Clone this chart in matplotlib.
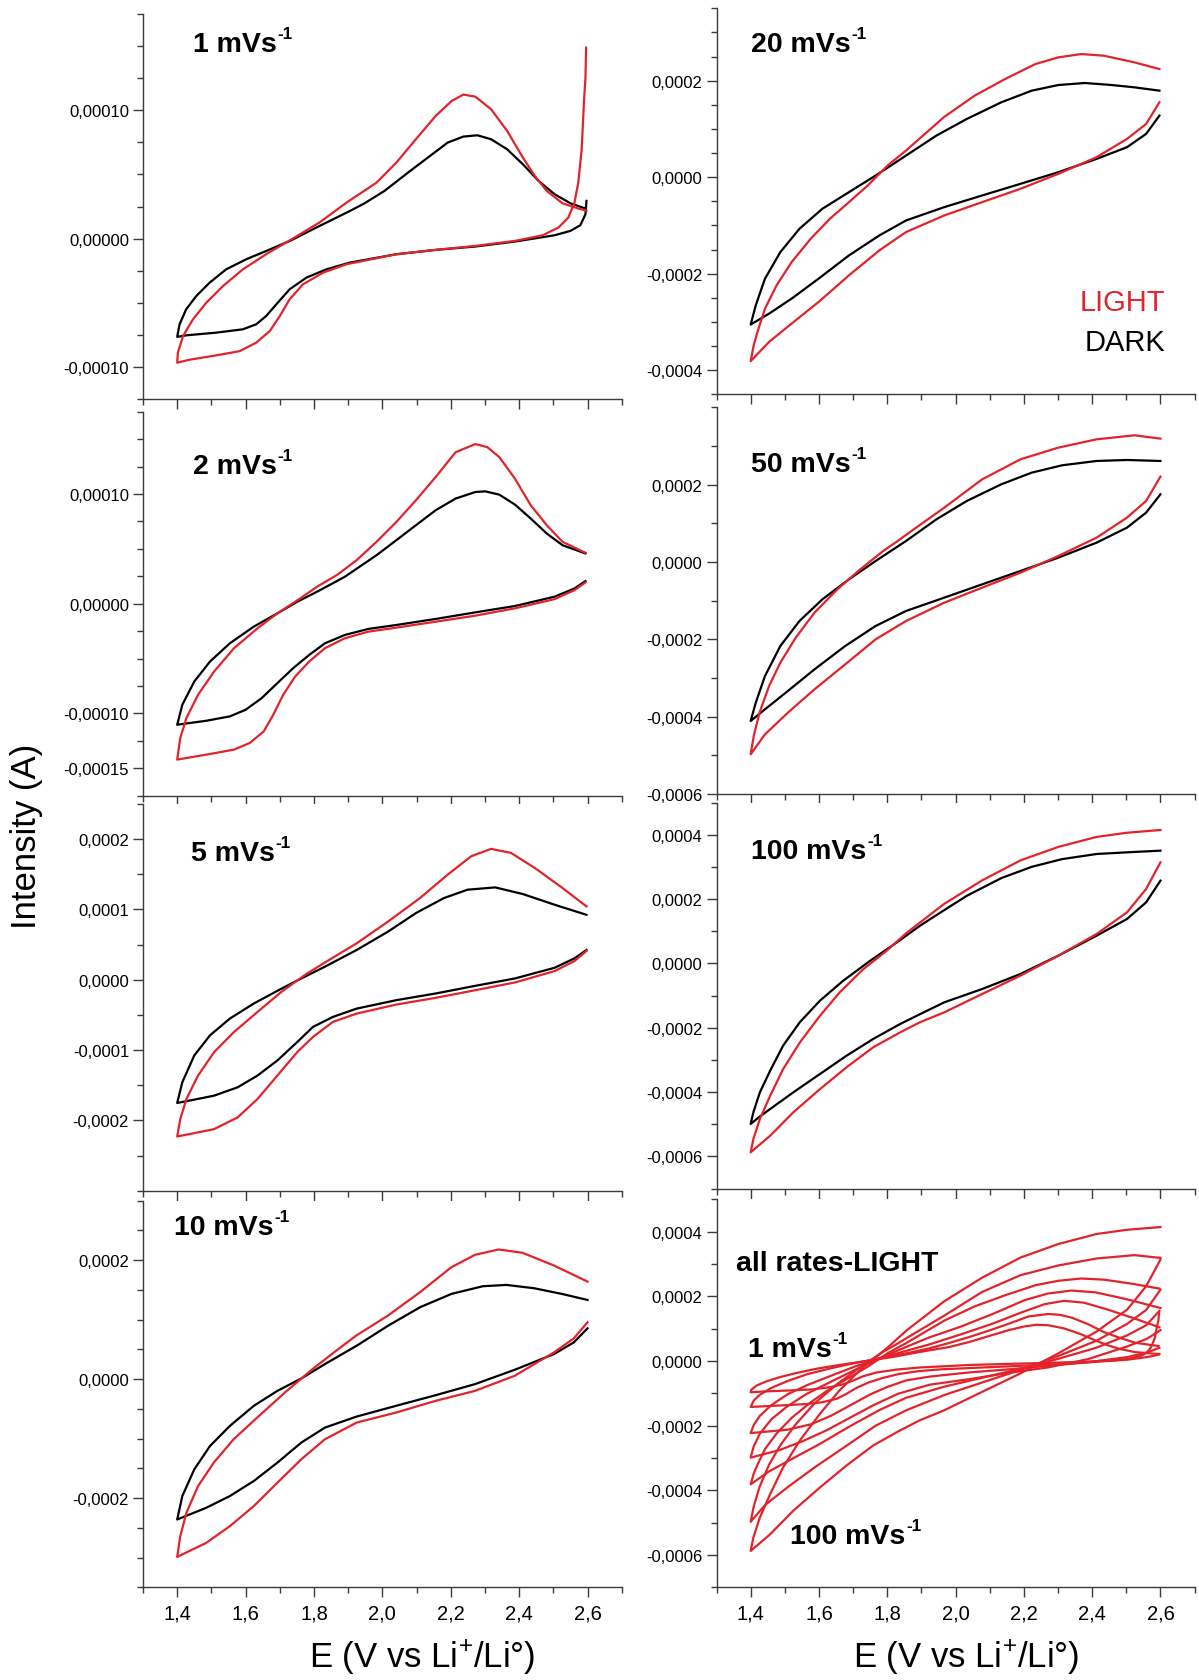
import matplotlib
matplotlib.use('Agg')
import matplotlib.pyplot as plt
from matplotlib.ticker import FixedLocator, FuncFormatter

# cyclic voltammograms, current in units of 1e-4 A
# each curve: cathodic sweep from 2.6 V down to 1.4 V, then anodic sweep back up

E_dark_1 = [2.597, 2.594, 2.579, 2.55, 2.504, 2.388, 2.272, 2.156, 2.041, 1.905, 1.836, 1.778, 1.729, 1.69, 1.66,
            1.631, 1.592, 1.514, 1.426, 1.40,
            1.407, 1.426, 1.456, 1.495, 1.543, 1.602, 1.66, 1.729, 1.807, 1.905, 1.948, 2.006, 2.075, 2.133, 2.191,
            2.237, 2.278, 2.318, 2.365, 2.411, 2.457, 2.504, 2.55, 2.594]
I_dark_1 = [0.294, 0.19, 0.104, 0.06, 0.026, -0.023, -0.062, -0.088, -0.122, -0.187, -0.24, -0.304, -0.395, -0.512,
            -0.604, -0.668, -0.707, -0.733, -0.754, -0.766,
            -0.668, -0.552, -0.447, -0.343, -0.24, -0.161, -0.097, -0.019, 0.086, 0.215, 0.275, 0.371, 0.514, 0.631,
            0.748, 0.795, 0.805, 0.774, 0.696, 0.579, 0.449, 0.345, 0.275, 0.234]
E_light_1 = [2.596, 2.594, 2.59, 2.583, 2.573, 2.562, 2.544, 2.515, 2.469, 2.388, 2.272, 2.156, 2.041, 1.895, 1.827,
             1.768, 1.729, 1.70, 1.671, 1.631, 1.583, 1.514, 1.436, 1.40,
             1.402, 1.417, 1.446, 1.485, 1.534, 1.592, 1.66, 1.738, 1.816, 1.895, 1.983, 2.041, 2.098, 2.156, 2.203,
             2.237, 2.272, 2.318, 2.365, 2.411, 2.446, 2.481, 2.527, 2.573, 2.597]
I_light_1 = [1.488, 1.25, 1.086, 0.696, 0.436, 0.281, 0.164, 0.086, 0.026, -0.018, -0.057, -0.088, -0.122, -0.2,
             -0.265, -0.356, -0.473, -0.604, -0.72, -0.811, -0.877, -0.91, -0.944, -0.967,
             -0.889, -0.76, -0.63, -0.5, -0.37, -0.24, -0.122, 0.0, 0.125, 0.28, 0.436, 0.592, 0.774, 0.956, 1.073,
             1.122, 1.106, 1.008, 0.839, 0.631, 0.488, 0.371, 0.275, 0.234, 0.218]

E_dark_2 = [2.594, 2.562, 2.504, 2.388, 2.272, 2.156, 2.041, 1.959, 1.89, 1.832, 1.786, 1.739, 1.693, 1.647, 1.60,
            1.554, 1.485, 1.40,
            1.415, 1.45, 1.496, 1.554, 1.624, 1.693, 1.751, 1.809, 1.89, 1.983, 2.041, 2.098, 2.156, 2.214, 2.272,
            2.301, 2.342, 2.388, 2.434, 2.481, 2.527, 2.594]
I_dark_2 = [0.206, 0.139, 0.064, -0.021, -0.079, -0.139, -0.194, -0.23, -0.285, -0.361, -0.467, -0.588, -0.724,
            -0.861, -0.967, -1.027, -1.067, -1.103,
            -0.921, -0.709, -0.527, -0.361, -0.209, -0.088, 0.018, 0.109, 0.245, 0.442, 0.579, 0.715, 0.852, 0.958,
            1.018, 1.024, 0.994, 0.903, 0.776, 0.639, 0.533, 0.458]
E_light_2 = [2.594, 2.562, 2.504, 2.388, 2.272, 2.156, 2.041, 1.959, 1.89, 1.832, 1.786, 1.745, 1.71, 1.681, 1.653,
             1.612, 1.566, 1.496, 1.40,
             1.409, 1.427, 1.461, 1.508, 1.566, 1.635, 1.693, 1.757, 1.809, 1.867, 1.925, 1.983, 2.041, 2.098, 2.156,
             2.214, 2.272, 2.307, 2.342, 2.388, 2.434, 2.481, 2.527, 2.594]
I_light_2 = [0.194, 0.124, 0.042, -0.042, -0.109, -0.164, -0.218, -0.255, -0.315, -0.406, -0.527, -0.664, -0.83,
             -1.012, -1.164, -1.27, -1.33, -1.37, -1.421,
             -1.224, -1.042, -0.83, -0.618, -0.406, -0.224, -0.088, 0.042, 0.155, 0.261, 0.397, 0.564, 0.745, 0.942,
             1.155, 1.38, 1.455, 1.427, 1.336, 1.139, 0.897, 0.715, 0.564, 0.464]

E_dark_5 = [2.597, 2.562, 2.504, 2.388, 2.272, 2.156, 2.041, 1.925, 1.855, 1.797, 1.751, 1.693, 1.635, 1.577, 1.508,
            1.45, 1.40,
            1.415, 1.45, 1.496, 1.554, 1.624, 1.693, 1.763, 1.832, 1.925, 2.017, 2.098, 2.18, 2.249, 2.33, 2.411,
            2.504, 2.597]
I_dark_5 = [0.424, 0.305, 0.171, 0.019, -0.086, -0.195, -0.29, -0.41, -0.529, -0.671, -0.886, -1.148, -1.362,
            -1.529, -1.648, -1.705, -1.752,
            -1.457, -1.076, -0.79, -0.552, -0.338, -0.157, 0.019, 0.186, 0.424, 0.686, 0.948, 1.162, 1.281, 1.314,
            1.219, 1.067, 0.924]
E_light_5 = [2.597, 2.562, 2.504, 2.388, 2.272, 2.156, 2.041, 1.925, 1.855, 1.797, 1.751, 1.693, 1.635, 1.577,
             1.508, 1.45, 1.40,
             1.409, 1.427, 1.461, 1.508, 1.566, 1.635, 1.705, 1.78, 1.844, 1.925, 2.017, 2.11, 2.191, 2.26, 2.318,
             2.376, 2.446, 2.527, 2.597]
I_light_5 = [0.41, 0.267, 0.124, -0.038, -0.148, -0.257, -0.352, -0.481, -0.6, -0.814, -1.029, -1.362, -1.695,
             -1.957, -2.124, -2.181, -2.229,
             -1.981, -1.695, -1.362, -1.029, -0.743, -0.457, -0.171, 0.09, 0.281, 0.519, 0.829, 1.162, 1.495, 1.757,
             1.862, 1.805, 1.59, 1.305, 1.043]

E_dark_10 = [2.60, 2.56, 2.502, 2.387, 2.271, 2.156, 2.04, 1.925, 1.832, 1.763, 1.693, 1.624, 1.554, 1.485, 1.40,
             1.415, 1.45, 1.496, 1.554, 1.624, 1.693, 1.763, 1.832, 1.925, 2.017, 2.11, 2.202, 2.294, 2.363, 2.444,
             2.525, 2.60]
I_dark_10 = [0.854, 0.618, 0.421, 0.157, -0.084, -0.27, -0.449, -0.629, -0.815, -1.067, -1.404, -1.713, -1.966,
             -2.163, -2.36,
             -1.966, -1.517, -1.124, -0.787, -0.449, -0.197, 0.011, 0.253, 0.562, 0.899, 1.208, 1.433, 1.562, 1.584,
             1.528, 1.433, 1.331]
E_light_10 = [2.60, 2.56, 2.502, 2.387, 2.271, 2.156, 2.04, 1.925, 1.832, 1.763, 1.693, 1.624, 1.554, 1.485, 1.40,
              1.409, 1.427, 1.461, 1.507, 1.565, 1.634, 1.715, 1.796, 1.865, 1.923, 2.016, 2.11, 2.202, 2.271, 2.34,
              2.41, 2.502, 2.60]
I_light_10 = [0.955, 0.685, 0.449, 0.056, -0.197, -0.365, -0.562, -0.73, -1.011, -1.348, -1.742, -2.135, -2.472,
              -2.753, -2.989,
              -2.64, -2.247, -1.798, -1.404, -1.011, -0.646, -0.225, 0.169, 0.478, 0.73, 1.067, 1.461, 1.882, 2.09,
              2.18, 2.124, 1.91, 1.64]

E_dark_20 = [2.597, 2.558, 2.502, 2.413, 2.301, 2.19, 2.078, 1.967, 1.855, 1.777, 1.688, 1.599, 1.52, 1.454, 1.40,
             1.415, 1.442, 1.487, 1.543, 1.61, 1.688, 1.766, 1.855, 1.944, 2.033, 2.134, 2.223, 2.301, 2.379, 2.457,
             2.524, 2.597]
I_dark_20 = [1.276, 0.897, 0.621, 0.379, 0.103, -0.138, -0.379, -0.621, -0.897, -1.207, -1.621, -2.103, -2.517,
             -2.828, -3.055,
             -2.655, -2.103, -1.552, -1.069, -0.655, -0.31, 0.034, 0.448, 0.862, 1.207, 1.552, 1.793, 1.91, 1.952,
             1.91, 1.862, 1.793]
E_light_20 = [2.597, 2.558, 2.502, 2.413, 2.301, 2.19, 2.078, 1.967, 1.855, 1.777, 1.688, 1.599, 1.52, 1.454, 1.40,
              1.409, 1.42, 1.442, 1.476, 1.52, 1.576, 1.632, 1.688, 1.743, 1.801, 1.855, 1.967, 2.056, 2.145, 2.234,
              2.301, 2.368, 2.435, 2.524, 2.597]
I_light_20 = [1.552, 1.103, 0.793, 0.414, 0.069, -0.241, -0.517, -0.793, -1.138, -1.517, -2.034, -2.586, -3.034,
              -3.414, -3.814,
              -3.483, -3.207, -2.724, -2.241, -1.759, -1.276, -0.862, -0.517, -0.172, 0.241, 0.552, 1.25, 1.69, 2.034,
              2.345, 2.483, 2.552, 2.517, 2.379, 2.241]

E_dark_50 = [2.60, 2.558, 2.502, 2.413, 2.301, 2.19, 2.078, 1.967, 1.855, 1.766, 1.677, 1.587, 1.509, 1.442, 1.40,
             1.415, 1.442, 1.487, 1.543, 1.61, 1.688, 1.766, 1.855, 1.944, 2.033, 2.134, 2.223, 2.312, 2.413, 2.502,
             2.60]
I_dark_50 = [1.75, 1.276, 0.888, 0.5, 0.112, -0.233, -0.578, -0.922, -1.267, -1.655, -2.172, -2.776, -3.336, -3.81,
             -4.112,
             -3.638, -2.948, -2.172, -1.526, -0.966, -0.448, 0.026, 0.543, 1.103, 1.578, 2.009, 2.31, 2.5, 2.612,
             2.638, 2.612]
E_light_50 = [2.60, 2.558, 2.502, 2.413, 2.301, 2.19, 2.078, 1.967, 1.855, 1.766, 1.677, 1.587, 1.509, 1.442, 1.40,
              1.409, 1.426, 1.454, 1.487, 1.532, 1.587, 1.654, 1.721, 1.788, 1.827, 1.877, 1.967, 2.078, 2.19, 2.301,
              2.413, 2.524, 2.60]
I_light_50 = [2.207, 1.578, 1.147, 0.629, 0.155, -0.276, -0.664, -1.052, -1.526, -2.0, -2.647, -3.293, -3.897,
              -4.457, -4.974,
              -4.5, -3.897, -3.207, -2.603, -1.957, -1.31, -0.707, -0.19, 0.284, 0.52, 0.84, 1.405, 2.138, 2.655,
              2.957, 3.172, 3.276, 3.19]

E_dark_100 = [2.60, 2.558, 2.502, 2.413, 2.301, 2.19, 2.078, 1.967, 1.896, 1.837, 1.759, 1.681, 1.603, 1.525, 1.457,
              1.427, 1.40,
              1.408, 1.427, 1.457, 1.495, 1.544, 1.603, 1.671, 1.75, 1.828, 1.896, 1.944, 2.033, 2.134, 2.223, 2.312,
              2.413, 2.502, 2.60]
I_dark_100 = [2.57, 1.896, 1.378, 0.86, 0.238, -0.332, -0.798, -1.212, -1.58, -1.89, -2.35, -2.87, -3.44, -4.01,
              -4.53, -4.76, -4.995,
              -4.63, -4.01, -3.34, -2.56, -1.83, -1.16, -0.54, 0.08, 0.65, 1.17, 1.5, 2.1, 2.65, 3.0, 3.24, 3.399,
              3.451, 3.503]
E_light_100 = [2.60, 2.558, 2.502, 2.413, 2.301, 2.19, 2.078, 1.967, 1.896, 1.837, 1.759, 1.681, 1.603, 1.525, 1.457,
               1.40,
               1.408, 1.427, 1.457, 1.495, 1.544, 1.603, 1.661, 1.73, 1.798, 1.857, 1.967, 2.078, 2.19, 2.301, 2.413,
               2.502, 2.60]
I_light_100 = [3.14, 2.311, 1.585, 0.912, 0.238, -0.383, -0.953, -1.523, -1.83, -2.15, -2.61, -3.23, -3.91, -4.63,
               -5.36, -5.876,
               -5.46, -4.84, -4.12, -3.29, -2.46, -1.63, -0.9, -0.18, 0.39, 0.95, 1.85, 2.58, 3.2, 3.62, 3.93, 4.06,
               4.145]

rates = [1, 2, 5, 10, 20, 50, 100]
dark = {1: (E_dark_1, I_dark_1), 2: (E_dark_2, I_dark_2), 5: (E_dark_5, I_dark_5), 10: (E_dark_10, I_dark_10),
        20: (E_dark_20, I_dark_20), 50: (E_dark_50, I_dark_50), 100: (E_dark_100, I_dark_100)}
light = {1: (E_light_1, I_light_1), 2: (E_light_2, I_light_2), 5: (E_light_5, I_light_5),
         10: (E_light_10, I_light_10), 20: (E_light_20, I_light_20), 50: (E_light_50, I_light_50),
         100: (E_light_100, I_light_100)}

RED = '#e3232c'
SPINE = '#3a3a3a'

plt.rcParams['font.family'] = ['Liberation Sans', 'DejaVu Sans']
plt.rcParams['mathtext.fontset'] = 'custom'
plt.rcParams['mathtext.rm'] = 'Liberation Sans'
plt.rcParams['mathtext.bf'] = 'Liberation Sans:bold'
plt.rcParams['mathtext.it'] = 'Liberation Sans:italic'

W, H = 1199, 1681
fig = plt.figure(figsize=(W / 100, H / 100), dpi=100)


def make_axes(x0, x1, ytop, ybot):
    return fig.add_axes([x0 / W, 1 - ybot / H, (x1 - x0) / W, (ybot - ytop) / H])


def style(ax, ylim, ymajor, yminor, decimals, show_x):
    ax.set_xlim(1.3, 2.7)
    ax.set_ylim(ylim[0] * 1e-4, ylim[1] * 1e-4)
    for s in ['top', 'right']:
        ax.spines[s].set_visible(False)
    for s in ['left', 'bottom']:
        ax.spines[s].set_color(SPINE)
        ax.spines[s].set_linewidth(1.0)
    ax.xaxis.set_major_locator(FixedLocator([1.4, 1.6, 1.8, 2.0, 2.2, 2.4, 2.6]))
    ax.xaxis.set_minor_locator(FixedLocator([1.3, 1.5, 1.7, 1.9, 2.1, 2.3, 2.5, 2.7]))
    ax.xaxis.set_major_formatter(FuncFormatter(lambda v, p: f'{v:.1f}'.replace('.', ',')))
    ax.yaxis.set_major_locator(FixedLocator([v * 1e-4 for v in ymajor]))
    ax.yaxis.set_minor_locator(FixedLocator([v * 1e-4 for v in yminor]))
    ax.yaxis.set_major_formatter(FuncFormatter(lambda v, p: f'{v:.{decimals}f}'.replace('.', ',')))
    ax.tick_params(which='major', direction='out', length=7, width=1, color=SPINE)
    ax.tick_params(which='minor', direction='out', length=4, width=1, color=SPINE)
    ax.tick_params(axis='y', labelsize=12, pad=3)
    ax.tick_params(axis='x', labelsize=14.5, pad=5, labelbottom=show_x)


def frange(a, b, step):
    n = int(round((b - a) / step))
    return [round(a + i * step, 4) for i in range(n + 1)]


def draw_pair(ax, rate):
    E, I = dark[rate]
    ax.plot(E, [v * 1e-4 for v in I], color='black', lw=1.6)
    E, I = light[rate]
    ax.plot(E, [v * 1e-4 for v in I], color=RED, lw=1.6)


def label(x, y, s, **kw):
    return fig.text(x / W, 1 - y / H, s, **kw)


def title(ax, x, y, s, size=20.5):
    # bold label with a small "-1" exponent hung on its top right corner
    t = label(x, y, s, fontsize=size, fontweight='bold', ha='left', va='center')
    ax.annotate('-1', xy=(1, 1), xycoords=t, xytext=(0.5, 3.5), textcoords='offset points',
                fontsize=size * 0.6, fontweight='bold', ha='left', va='top', annotation_clip=False)


LX0, LX1 = 143.0, 621.7
RX0, RX1 = 716.5, 1194.6

# left column
ax1 = make_axes(LX0, LX1, 15, 400)
draw_pair(ax1, 1)
style(ax1, (-1.25, 1.75), [-1, 0, 1], frange(-1.25, 1.75, 0.25), 5, False)

ax2 = make_axes(LX0, LX1, 412.7, 796.7)
draw_pair(ax2, 2)
style(ax2, (-1.75, 1.75), [-1.5, -1, 0, 1], frange(-1.75, 1.75, 0.25), 5, False)

ax3 = make_axes(LX0, LX1, 805, 1191.7)
draw_pair(ax3, 5)
style(ax3, (-3, 2.5), [-2, -1, 0, 1, 2], frange(-3, 2.5, 0.5), 4, False)

ax4 = make_axes(LX0, LX1, 1201.7, 1588.3)
draw_pair(ax4, 10)
style(ax4, (-3.5, 3), [-2, 0, 2], frange(-3.5, 3, 0.5), 4, True)

# right column
ax5 = make_axes(RX0, RX1, 9.3, 395.3)
draw_pair(ax5, 20)
style(ax5, (-4.5, 3.5), [-4, -2, 0, 2], frange(-4.5, 3.5, 0.5), 4, False)

ax6 = make_axes(RX0, RX1, 408.3, 795)
draw_pair(ax6, 50)
style(ax6, (-6, 4), [-6, -4, -2, 0, 2], frange(-6, 4, 1), 4, False)

ax7 = make_axes(RX0, RX1, 803.5, 1189.5)
draw_pair(ax7, 100)
style(ax7, (-7, 5), [-6, -4, -2, 0, 2, 4], frange(-7, 5, 1), 4, False)

ax8 = make_axes(RX0, RX1, 1200.4, 1588.3)
for r in rates:
    E, I = light[r]
    ax8.plot(E, [v * 1e-4 for v in I], color=RED, lw=1.6)
style(ax8, (-7, 5), [-6, -4, -2, 0, 2, 4], frange(-7, 5, 1), 4, True)

# panel titles
title(ax1, 193, 45, '1 mVs')
title(ax2, 193, 467, '2 mVs')
title(ax3, 191, 854, '5 mVs')
title(ax4, 174, 1228, '10 mVs')
title(ax5, 751, 45, '20 mVs')
title(ax6, 751, 465, '50 mVs')
title(ax7, 751, 852, '100 mVs')
label(736, 1264, 'all rates-LIGHT', fontsize=20.5, fontweight='bold', ha='left', va='center')
title(ax8, 748, 1350, '1 mVs')
title(ax8, 790, 1537, '100 mVs')

label(1165, 303, 'LIGHT', fontsize=21, color=RED, ha='right', va='center')
label(1165, 343, 'DARK', fontsize=21, color='black', ha='right', va='center')

label(27, 836, 'Intensity (A)', fontsize=25, rotation=90, ha='center', va='center')
label(422, 1658, r'E (V vs Li$^{+}$/Li°)', fontsize=25, ha='center', va='center')
label(966, 1658, r'E (V vs Li$^{+}$/Li°)', fontsize=25, ha='center', va='center')

fig.savefig('out.png', dpi=100)
